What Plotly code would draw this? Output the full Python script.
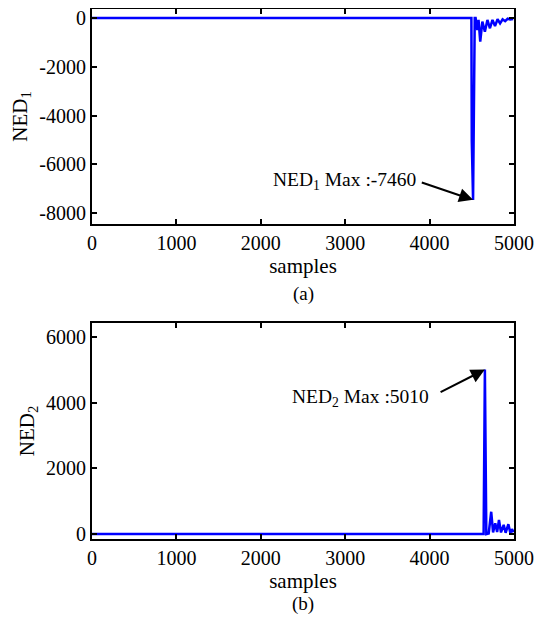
import plotly.graph_objects as go

# ---- data ----
ned1_samples = [0, 4495, 4500, 4515, 4535, 4545, 4565, 4580, 4600, 4625, 4655, 4685, 4715, 4745,
                4775, 4805, 4835, 4865, 4895, 4925, 4955, 4990]
ned1_values = [0, 0, -5080, -7460, 0, 0, -490, -80, -970, -150, -560, -80, -420, -80,
               -330, -50, -220, -50, -130, -30, -60, -40]

ned2_samples = [0, 4640, 4655, 4672, 4700, 4730, 4752, 4778, 4800, 4822, 4846, 4878, 4901,
                4933, 4957, 4976, 4995]
ned2_values = [0, 0, 5010, 0, 20, 680, 50, 330, 60, 430, 50, 280, 40, 300, 30, 150, 60]

x_ticks = [0, 1000, 2000, 3000, 4000, 5000]
y1_ticks = [-8000, -6000, -4000, -2000, 0]
y1_ticktext = ["-8000", "-6000", "-4000", "-2000", "0"]
y2_ticks = [0, 2000, 4000, 6000]

ned1_max_label = "NED<sub>1</sub> Max :-7460"
ned2_max_label = "NED<sub>2</sub> Max :5010"

# page has an 8px body margin, so the figure is drawn 8px smaller
OFF = 8
W, H = 542 - OFF, 623 - OFF
FONT = "Liberation Serif"
BLUE = "#0000ff"

fig = go.Figure()
fig.add_trace(go.Scatter(x=ned1_samples, y=ned1_values, mode="lines",
                         line=dict(color=BLUE, width=2.5), xaxis="x", yaxis="y",
                         showlegend=False))
fig.add_trace(go.Scatter(x=ned2_samples, y=ned2_values, mode="lines",
                         line=dict(color=BLUE, width=2.5), xaxis="x2", yaxis="y2",
                         showlegend=False))

def px_x(p):
    return (p - OFF) / W

def px_y(p):
    return 1 - (p - OFF) / H

axis_common = dict(showline=True, linecolor="black", linewidth=2, mirror="ticks",
                   ticks="inside", ticklen=5, tickwidth=1.5, tickcolor="black",
                   showgrid=False, zeroline=False, automargin=False,
                   ticklabeloverflow="allow",
                   tickfont=dict(family=FONT, size=20, color="black"))

title_font = dict(family=FONT, size=21, color="black")

fig.update_layout(
    width=W, height=H,
    margin=dict(l=0, r=0, t=0, b=0),
    paper_bgcolor="white", plot_bgcolor="white",
    font=dict(family=FONT, color="black"),
    xaxis=dict(domain=[px_x(92), px_x(514)], anchor="y", range=[0, 5000],
               tickvals=x_ticks, **axis_common,
               title=dict(text="samples", font=title_font, standoff=0)),
    yaxis=dict(domain=[px_y(224), px_y(9)], anchor="x", range=[-8450, 370],
               tickvals=y1_ticks, ticktext=y1_ticktext, **axis_common,
               title=dict(text="NED<sub>1</sub>", font=title_font, standoff=6)),
    xaxis2=dict(domain=[px_x(92), px_x(514)], anchor="y2", range=[0, 5000],
                tickvals=x_ticks, **axis_common,
                title=dict(text="samples", font=title_font, standoff=0)),
    yaxis2=dict(domain=[px_y(539), px_y(323)], anchor="x2", range=[-150, 6430],
                tickvals=y2_ticks, **axis_common,
                title=dict(text="NED<sub>2</sub>", font=title_font, standoff=6)),
)

ann_font = dict(family=FONT, size=19.5, color="black")
fig.add_annotation(x=4515, y=-7460, xref="x", yref="y", text=ned1_max_label,
                   showarrow=True, ax=-56, ay=-19, xanchor="right", yanchor="middle",
                   arrowhead=2, arrowsize=1.4, arrowwidth=2, arrowcolor="black",
                   startstandoff=5, borderpad=0, font=ann_font)
fig.add_annotation(x=4655, y=5010, xref="x2", yref="y2", text=ned2_max_label,
                   showarrow=True, ax=-55, ay=28, xanchor="right", yanchor="middle",
                   arrowhead=2, arrowsize=1.4, arrowwidth=2, arrowcolor="black",
                   startstandoff=12, borderpad=0, font=ann_font)

fig.add_annotation(x=px_x(303), y=px_y(294), xref="paper", yref="paper", text="(a)",
                   showarrow=False, xanchor="center", yanchor="middle",
                   font=dict(family=FONT, size=19, color="black"))
fig.add_annotation(x=px_x(303), y=px_y(604), xref="paper", yref="paper", text="(b)",
                   showarrow=False, xanchor="center", yanchor="middle",
                   font=dict(family=FONT, size=19, color="black"))

fig.write_html("out.html")
